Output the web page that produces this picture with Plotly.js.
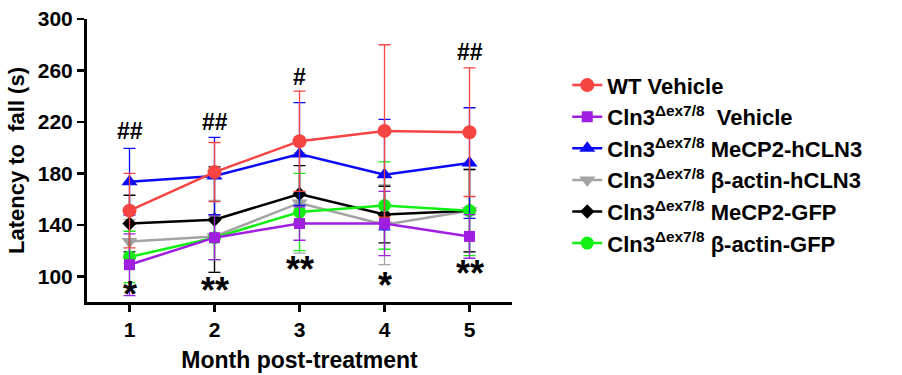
<!DOCTYPE html>
<html>
<head>
<meta charset="utf-8">
<script src="https://cdn.plot.ly/plotly-3.0.1.min.js"></script>
<style>
  html, body { margin: 0; padding: 0; background: #fff; }
  #chart { width: 902px; height: 375px; }
</style>
</head>
<body>
<div id="chart"></div>
<script>
// ---- data ----
const months = [1, 2, 3, 4, 5];

const wtVehicle      = [151, 181, 205, 213, 212];
const wtVehicleErr   = [29, 23, 39, 67, 50];

const koVehicle      = [109, 130, 141, 141, 131];
const koVehicleErr   = [24, 17, 13, 25, 17];

const koMecpHcln3    = [173.5, 178, 195, 179, 188];
const koMecpHcln3Err = [26, 30, 40, 43, 43];

const koActinHcln3    = [127, 131, 157, 140, 151];
const koActinHcln3Err = [17, 28, 39, 31, 32];

const koMecpGfp      = [141, 144, 164, 148, 151];
const koMecpGfpErr   = [22, 41, 22, 22, 32];

const koActinGfp     = [115, 130, 150, 155, 151];
const koActinGfpErr  = [20, 17, 30, 34, 35];

const seriesNames = [
  'WT Vehicle',
  'Cln3<sup>\u0394ex7/8</sup>  Vehicle',
  'Cln3<sup>\u0394ex7/8</sup> MeCP2-hCLN3',
  'Cln3<sup>\u0394ex7/8</sup> \u03b2-actin-hCLN3',
  'Cln3<sup>\u0394ex7/8</sup> MeCP2-GFP',
  'Cln3<sup>\u0394ex7/8</sup> \u03b2-actin-GFP'
];

const yTicks = [100, 140, 180, 220, 260, 300];

// significance marks
const hashMonths = [1, 2, 3, 5];
const hashLabels = ['##', '##', '#', '##'];
const hashY      = [213, 220, 255, 274.6];

const starMonths = [1, 2, 3, 4, 5];
const starLabels = ['*', '**', '**', '*', '**'];
const starY      = [86, 89, 105, 93, 102];

// ---- styling ----
const FONT = 'Arial, "Liberation Sans", Helvetica, sans-serif';

function mk(name, y, err, color, symbol, size, rank) {
  return {
    type: 'scatter', mode: 'lines+markers',
    x: months, y: y, name: name,
    legendrank: rank, legendgroup: 'g' + rank,
    line: { color: color, width: 2.5 },
    marker: { color: color, symbol: symbol, size: size },
    error_y: { type: 'data', array: err, visible: true, color: color, thickness: 1.3, width: 6 }
  };
}

const RED = '#f64443', PURPLE = '#9f1fe0', BLUE = '#0a0af5', GRAY = '#a3a3a3', BLACK = '#000000', GREEN = '#11f011';

// draw order (later on top); legend order via legendrank
const traces = [
  mk(seriesNames[3], koActinHcln3, koActinHcln3Err, GRAY, 'triangle-down', 14, 4),
  mk(seriesNames[4], koMecpGfp, koMecpGfpErr, BLACK, 'diamond', 11, 5),
  mk(seriesNames[5], koActinGfp, koActinGfpErr, GREEN, 'circle', 13, 6),
  mk(seriesNames[2], koMecpHcln3, koMecpHcln3Err, BLUE, 'triangle-up', 14, 3),
  mk(seriesNames[1], koVehicle, koVehicleErr, PURPLE, 'square', 11, 2),
  mk(seriesNames[0], wtVehicle, wtVehicleErr, RED, 'circle', 14, 1)
];

const annotations = [];
hashMonths.forEach((m, i) => annotations.push({
  x: m, y: hashY[i], xref: 'x', yref: 'y', text: hashLabels[i], showarrow: false,
  xanchor: 'center', yanchor: 'middle',
  font: { family: FONT, size: 23, color: '#000', weight: 'bold' }
}));
starMonths.forEach((m, i) => annotations.push({
  x: m, y: starY[i], xref: 'x', yref: 'y', text: starLabels[i], showarrow: false,
  xanchor: 'center', yanchor: 'middle',
  font: { family: FONT, size: 36, color: '#000', weight: 'bold' }
}));

const layout = {
  width: 902, height: 375,
  margin: { l: 87, r: 390, t: 19, b: 73, pad: 0 },
  paper_bgcolor: '#fff', plot_bgcolor: '#fff',
  font: { family: FONT, color: '#000' },
  showlegend: true,
  legend: {
    x: 1.13, y: 0.84, xanchor: 'left', yanchor: 'top',
    font: { family: FONT, size: 22, color: '#000', weight: 'bold' },
    bgcolor: 'rgba(0,0,0,0)', tracegroupgap: 0, traceorder: 'normal'
  },
  xaxis: {
    range: [0.5, 5.5], tickvals: months, ticktext: months.map(String),
    showgrid: false, zeroline: false,
    showline: true, linecolor: '#000', linewidth: 3,
    ticks: 'outside', ticklen: 7, tickwidth: 2.5, tickcolor: '#000',
    tickfont: { family: FONT, size: 21, color: '#000', weight: 'bold' },
    title: { text: 'Month post-treatment', standoff: 12,
             font: { family: FONT, size: 23, color: '#000', weight: 'bold' } }
  },
  yaxis: {
    range: [80, 300], tickvals: yTicks, ticktext: yTicks.map(String),
    showgrid: false, zeroline: false,
    showline: true, linecolor: '#000', linewidth: 3,
    ticks: 'outside', ticklen: 7, tickwidth: 2.5, tickcolor: '#000',
    tickfont: { family: FONT, size: 21, color: '#000', weight: 'bold' },
    title: { text: 'Latency to  fall (s)', standoff: 8,
             font: { family: FONT, size: 22, color: '#000', weight: 'bold' } }
  },
  annotations: annotations
};

Plotly.newPlot('chart', traces, layout, { displayModeBar: false, staticPlot: true });
</script>
</body>
</html>
